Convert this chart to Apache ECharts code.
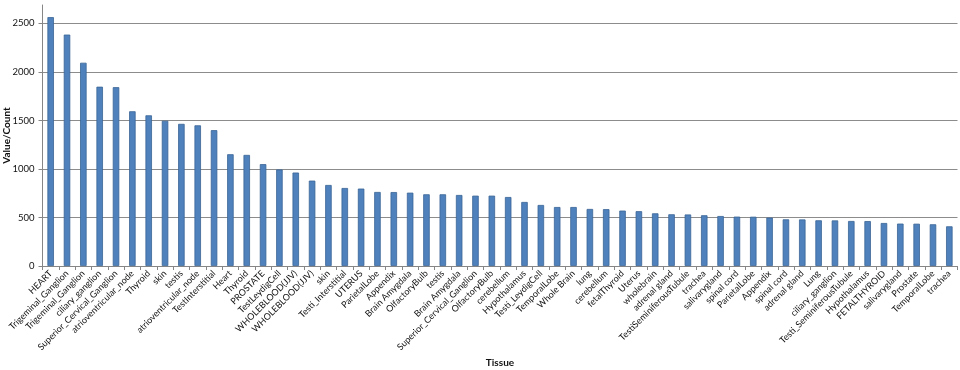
<!DOCTYPE html>
<html>
<head>
<meta charset="utf-8">
<script src="https://cdn.jsdelivr.net/npm/echarts@6/dist/echarts.min.js"></script>
<style>html,body{margin:0;padding:0;background:#fff}#c{width:960px;height:370px}</style>
</head>
<body>
<div id="c"></div>
<script>
const categories = ["HEART","Trigeminal_Ganglion","Trigeminal_Ganglion","ciliary_ganglion","Superior_Cervical_Ganglion","atrioventricular_node","Thyroid","skin","testis","atrioventricular_node","TestInterstitial","Heart","Thyroid","PROSTATE","TestLeydigCell","WHOLEBLOOD(JJV)","WHOLEBLOOD(JJV)","skin","Testi_Interstitial","UTERUS","ParietalLobe","Appendix","Brain Amygdala","OlfactoryBulb","testis","Brain Amygdala","Superior_Cervical_Ganglion","OlfactoryBulb","cerebellum","Hypothalamus","Testi_LeydigCell","TemporalLobe","Whole Brain","lung","cerebellum","fetalThyroid","Uterus","wholebrain","adrenal gland","TestiSeminiferousTubule","trachea","salivarygland","spinal cord","ParietalLobe","Appendix","spinal cord","adrenal gland","Lung","ciliary_ganglion","Testi_SeminiferousTubule","Hypothalamus","FETALTHYROID","salivarygland","Prostate","TemporalLobe","trachea"];
const values = [2565,2385,2095,1848,1843,1595,1553,1497,1465,1450,1400,1152,1145,1050,995,963,880,835,804,798,763,762,756,739,739,732,725,725,711,660,629,608,608,588,586,571,565,543,533,531,523,515,509,508,499,481,480,471,470,464,463,443,437,436,430,409];
const yTicks = {min: 0, max: 2690, interval: 500};
const yName = "Value/Count";
const xName = "Tissue";

const chart = echarts.init(document.getElementById('c'));
const font = "Lato, 'Open Sans', sans-serif";
chart.setOption({
  animation: false,
  textStyle: {fontFamily: font},
  grid: {left: 42.5, right: 2.5, top: 5, bottom: 104, containLabel: false, outerBoundsMode: 'none'},
  xAxis: {
    type: 'category',
    data: categories,
    name: xName,
    nameLocation: 'middle',
    nameGap: 92,
    nameMoveOverlap: false,
    nameTextStyle: {fontWeight: 'bold', fontSize: 10, color: '#111', fontFamily: font},
    axisLine: {lineStyle: {color: '#868686', width: 1}},
    axisTick: {show: true, alignWithLabel: false, length: 4, lineStyle: {color: '#868686'}},
    axisLabel: {interval: 0, rotate: 45, fontSize: 9, color: '#111', margin: 6, fontFamily: font}
  },
  yAxis: {
    type: 'value',
    min: yTicks.min, max: yTicks.max, interval: yTicks.interval,
    name: yName,
    nameLocation: 'middle',
    nameGap: 31,
    nameMoveOverlap: false,
    nameTextStyle: {fontWeight: 'bold', fontSize: 10, color: '#111', fontFamily: font},
    axisLine: {show: true, lineStyle: {color: '#868686', width: 1}},
    axisTick: {show: true, length: 4, lineStyle: {color: '#868686'}},
    axisLabel: {fontSize: 9.5, color: '#111', margin: 8, showMaxLabel: false, fontFamily: font,
      formatter: v => String(v)},
    splitLine: {show: true, showMaxLine: false, lineStyle: {color: '#8c8c8c', width: 1}}
  },
  series: [{
    type: 'bar',
    data: values,
    barWidth: 6.5,
    itemStyle: {color: '#4F81BD', borderColor: '#3A6496', borderWidth: 0.8}
  }]
});
</script>
</body>
</html>
